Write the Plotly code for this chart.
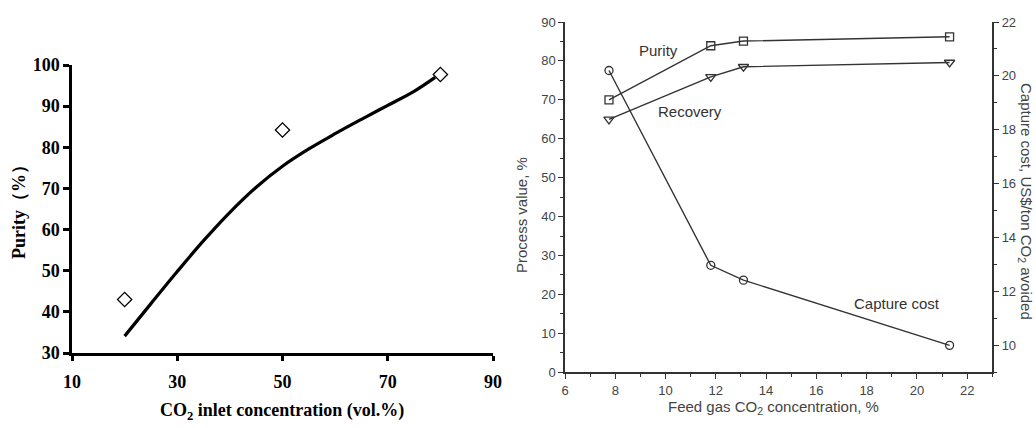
import plotly.graph_objects as go

# ---- Left chart data ----
left_pts_x = [20, 50, 80]
left_pts_y = [43.0, 84.2, 97.7]
left_curve_x = [20, 25, 30, 35, 40, 45, 50, 55, 60, 65, 70, 75, 79]
left_curve_y = [34.1, 42.0, 49.8, 57.3, 64.2, 70.3, 75.4, 79.6, 83.3, 86.8, 90.2, 93.6, 97.0]
left_xticks = [10, 30, 50, 70, 90]
left_yticks = [30, 40, 50, 60, 70, 80, 90, 100]

# ---- Right chart data ----
feed_co2 = [7.75, 11.8, 13.1, 21.3]
purity = [70.0, 83.9, 85.1, 86.2]
recovery = [65.0, 75.9, 78.5, 79.6]
capture_cost = [20.2, 12.97, 12.42, 10.0]

serif = "Liberation Serif"
sans = "Liberation Sans"
gray = "#444444"
linec = "#333333"

fig = go.Figure()

# Left chart
fig.add_trace(go.Scatter(x=left_curve_x, y=left_curve_y, mode="lines",
                         line=dict(color="black", width=3.2, shape="spline"),
                         xaxis="x", yaxis="y", showlegend=False))
fig.add_trace(go.Scatter(x=left_pts_x, y=left_pts_y, mode="markers",
                         marker=dict(symbol="diamond-open", size=11, color="black",
                                     line=dict(width=1.3, color="black")),
                         xaxis="x", yaxis="y", showlegend=False))

# Right chart
fig.add_trace(go.Scatter(x=feed_co2, y=purity, mode="lines+markers",
                         line=dict(color=linec, width=1.4),
                         marker=dict(symbol="square-open", size=8, color=linec,
                                     line=dict(width=1.3)),
                         xaxis="x2", yaxis="y2", showlegend=False))
fig.add_trace(go.Scatter(x=feed_co2, y=recovery, mode="lines+markers",
                         line=dict(color=linec, width=1.4),
                         marker=dict(symbol="triangle-down-open", size=9, color=linec,
                                     line=dict(width=1.3)),
                         xaxis="x2", yaxis="y2", showlegend=False))
fig.add_trace(go.Scatter(x=feed_co2, y=capture_cost, mode="lines+markers",
                         line=dict(color=linec, width=1.4),
                         marker=dict(symbol="circle-open", size=8, color=linec,
                                     line=dict(width=1.3)),
                         xaxis="x2", yaxis="y3", showlegend=False))

W, H = 1036, 428
def px(x):
    return x / W
def py(y):
    return 1 - y / H

tf_left = dict(family=serif, size=18, color="black", weight="bold")
tf_right = dict(family=sans, size=13, color=gray)

fig.update_layout(
    width=W, height=H,
    margin=dict(l=0, r=0, t=0, b=0, autoexpand=False),
    paper_bgcolor="white", plot_bgcolor="white",
    xaxis=dict(domain=[px(72), px(493)], range=[10, 90], tickvals=left_xticks,
               showline=True, linecolor="black", linewidth=3, ticks="outside",
               ticklen=5, tickwidth=2.5, tickcolor="black", showgrid=False,
               zeroline=False, tickfont=tf_left, anchor="y", automargin=False,
               ticklabelstandoff=5),
    yaxis=dict(domain=[py(353), py(65)], range=[30, 100], tickvals=left_yticks,
               showline=True, linecolor="black", linewidth=2.5, ticks="outside",
               ticklen=6, tickwidth=2.5, tickcolor="black", showgrid=False,
               zeroline=False, tickfont=tf_left, anchor="x", automargin=False),
    xaxis2=dict(domain=[px(565), px(992.3)], range=[6, 23], dtick=2, tick0=6,
                showline=True, linecolor=linec, linewidth=1.5, ticks="outside",
                ticklen=5, tickwidth=1.3, tickcolor=linec, showgrid=False,
                zeroline=False, tickfont=tf_right, anchor="y2", automargin=False,
                minor=dict(dtick=1, ticks="outside", ticklen=3, tickcolor=linec,
                           tickwidth=1.2, showgrid=False)),
    xaxis3=dict(domain=[px(565), px(992.3)], range=[6, 23], dtick=1, tick0=6,
                overlaying="x2", side="top", anchor="y2", automargin=False,
                showline=True, linecolor=linec, linewidth=1.5, ticks="inside",
                ticklen=4, tickwidth=1.3, tickcolor=linec, showticklabels=False,
                showgrid=False, zeroline=False),
    yaxis2=dict(domain=[py(372.3), py(22)], range=[0, 90], dtick=10,
                showline=True, linecolor=linec, linewidth=1.5, ticks="outside",
                ticklen=5, tickwidth=1.3, tickcolor=linec, showgrid=False,
                zeroline=False, tickfont=tf_right, anchor="x2", automargin=False,
                minor=dict(dtick=5, ticks="outside", ticklen=3, tickcolor=linec,
                           tickwidth=1.2, showgrid=False)),
    yaxis3=dict(domain=[py(372.3), py(22)], range=[9, 22], dtick=2, tick0=10,
                overlaying="y2", side="right", anchor="x2", automargin=False,
                showline=True, linecolor=linec, linewidth=1.5, ticks="outside",
                ticklen=5, tickwidth=1.3, tickcolor=linec, showgrid=False,
                zeroline=False, tickfont=tf_right,
                minor=dict(dtick=1, ticks="outside", ticklen=3, tickcolor=linec,
                           tickwidth=1.2, showgrid=False)),
)

def A(**kw):
    d = dict(showarrow=False, xanchor="center", yanchor="middle")
    d.update(kw)
    return d

ann = [
    # Left chart titles
    A(text="<b>Purity（%）</b>", x=px(19), y=py(208), xref="paper", yref="paper",
      textangle=-90, font=dict(family=serif, size=18, color="black")),
    A(text="<b>CO<sub>2</sub> inlet concentration (vol.%)</b>", x=px(282), y=py(411),
      xref="paper", yref="paper", font=dict(family=serif, size=18, color="black")),
    # Right chart titles
    A(text="Process value, %", x=px(521), y=py(215), xref="paper", yref="paper",
      textangle=-90, font=dict(family=sans, size=15, color=gray)),
    A(text="Capture cost, US$/ton CO<sub>2</sub> avoided", x=px(1026), y=py(201),
      xref="paper", yref="paper", textangle=90, font=dict(family=sans, size=15, color=gray)),
    A(text="Feed gas CO<sub>2</sub> concentration, %", x=px(773), y=py(407),
      xref="paper", yref="paper", font=dict(family=sans, size=15, color=gray)),
    # Series labels
    A(text="Purity", x=9.7, y=82.8, xref="x2", yref="y2",
      font=dict(family=sans, size=15, color=linec)),
    A(text="Recovery", x=10.98, y=66.9, xref="x2", yref="y2",
      font=dict(family=sans, size=15, color=linec)),
    A(text="Capture cost", x=19.19, y=17.8, xref="x2", yref="y2",
      font=dict(family=sans, size=15, color=linec)),
]
fig.update_layout(annotations=ann)

fig.write_html("out.html")
